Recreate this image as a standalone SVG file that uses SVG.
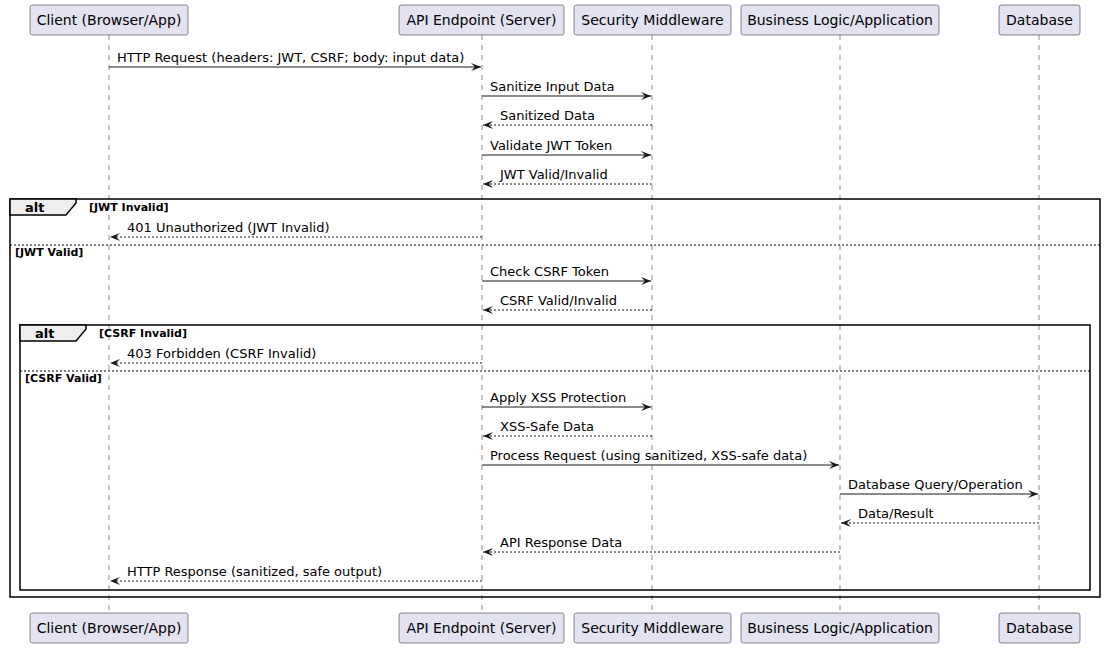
<svg xmlns="http://www.w3.org/2000/svg" width="1107" height="649" viewBox="0 0 1107 649">
<style>
.pbox{fill:#E2E2F0;stroke:#181818;stroke-width:0.5}
.ptxt{font-family:"DejaVu Sans",sans-serif;font-size:14px;fill:#000;text-anchor:middle}
.life{stroke:#181818;stroke-width:0.5;stroke-dasharray:5,5;fill:none}
.msg{stroke:#181818;stroke-width:1;fill:none}
.ret{stroke:#181818;stroke-width:1;fill:none;stroke-dasharray:2,2}
.mtxt{font-family:"DejaVu Sans",sans-serif;font-size:13px;fill:#000}
.frame{fill:none;stroke:#000;stroke-width:1.5}
.tab{fill:#EEEEEE;stroke:#000;stroke-width:1.5}
.alt{font-family:"DejaVu Sans",sans-serif;font-size:13px;font-weight:bold;fill:#000}
.guard{font-family:"DejaVu Sans",sans-serif;font-size:11px;font-weight:bold;fill:#000}
.sep{stroke:#000;stroke-width:1;stroke-dasharray:2,2}
</style>
<defs>
<marker id="ah" viewBox="0 0 10 8" refX="10" refY="4" markerWidth="10" markerHeight="8" markerUnits="userSpaceOnUse" orient="auto">
<polygon points="0,0 10,4 0,8 4,4" fill="#181818"/>
</marker>
</defs>
<g id="lifelines">
<line class="life" x1="109" y1="35" x2="109" y2="613"/>
<line class="life" x1="482" y1="35" x2="482" y2="613"/>
<line class="life" x1="652" y1="35" x2="652" y2="613"/>
<line class="life" x1="840" y1="35" x2="840" y2="613"/>
<line class="life" x1="1039" y1="35" x2="1039" y2="613"/>
</g>
<g id="frames">
<rect class="frame" x="10" y="199" width="1090" height="398"/>
<polygon class="tab" points="10,199 76,199 76,203 66,215 10,215"/>
<text class="alt" x="25" y="212">alt</text>
<text class="guard" x="89" y="211">[JWT Invalid]</text>
<line class="sep" x1="10" y1="245" x2="1100" y2="245"/>
<text class="guard" x="15" y="256">[JWT Valid]</text>
<rect class="frame" x="20" y="325" width="1070" height="265"/>
<polygon class="tab" points="20,325 86,325 86,329 76,341 20,341"/>
<text class="alt" x="35" y="338">alt</text>
<text class="guard" x="99" y="337">[CSRF Invalid]</text>
<line class="sep" x1="20" y1="371" x2="1090" y2="371"/>
<text class="guard" x="25" y="382">[CSRF Valid]</text>
</g>
<g id="participant-client">
<rect class="pbox" x="30" y="5" width="158" height="30" rx="2.5"/>
<text class="ptxt" x="109" y="25">Client (Browser/App)</text>
<rect class="pbox" x="30" y="613" width="158" height="30" rx="2.5"/>
<text class="ptxt" x="109" y="633">Client (Browser/App)</text>
</g>
<g id="participant-api">
<rect class="pbox" x="399" y="5" width="165" height="30" rx="2.5"/>
<text class="ptxt" x="481.5" y="25">API Endpoint (Server)</text>
<rect class="pbox" x="399" y="613" width="165" height="30" rx="2.5"/>
<text class="ptxt" x="481.5" y="633">API Endpoint (Server)</text>
</g>
<g id="participant-security">
<rect class="pbox" x="574" y="5" width="157" height="30" rx="2.5"/>
<text class="ptxt" x="652.5" y="25">Security Middleware</text>
<rect class="pbox" x="574" y="613" width="157" height="30" rx="2.5"/>
<text class="ptxt" x="652.5" y="633">Security Middleware</text>
</g>
<g id="participant-business">
<rect class="pbox" x="741" y="5" width="198" height="30" rx="2.5"/>
<text class="ptxt" x="840" y="25">Business Logic/Application</text>
<rect class="pbox" x="741" y="613" width="198" height="30" rx="2.5"/>
<text class="ptxt" x="840" y="633">Business Logic/Application</text>
</g>
<g id="participant-database">
<rect class="pbox" x="999" y="5" width="81" height="30" rx="2.5"/>
<text class="ptxt" x="1039.5" y="25">Database</text>
<rect class="pbox" x="999" y="613" width="81" height="30" rx="2.5"/>
<text class="ptxt" x="1039.5" y="633">Database</text>
</g>
<g id="connectors">
<line class="msg" x1="109" y1="67" x2="481" y2="67" marker-end="url(#ah)"/>
<text class="mtxt" x="117" y="62">HTTP Request (headers: JWT, CSRF; body: input data)</text>
<line class="msg" x1="482" y1="96" x2="651" y2="96" marker-end="url(#ah)"/>
<text class="mtxt" x="490" y="91">Sanitize Input Data</text>
<line class="ret" x1="652" y1="125" x2="483" y2="125" marker-end="url(#ah)"/>
<text class="mtxt" x="500" y="120">Sanitized Data</text>
<line class="msg" x1="482" y1="155" x2="651" y2="155" marker-end="url(#ah)"/>
<text class="mtxt" x="490" y="150">Validate JWT Token</text>
<line class="ret" x1="652" y1="184" x2="483" y2="184" marker-end="url(#ah)"/>
<text class="mtxt" x="500" y="179">JWT Valid/Invalid</text>
<line class="ret" x1="482" y1="237" x2="110" y2="237" marker-end="url(#ah)"/>
<text class="mtxt" x="127" y="232">401 Unauthorized (JWT Invalid)</text>
<line class="msg" x1="482" y1="281" x2="651" y2="281" marker-end="url(#ah)"/>
<text class="mtxt" x="490" y="276">Check CSRF Token</text>
<line class="ret" x1="652" y1="310" x2="483" y2="310" marker-end="url(#ah)"/>
<text class="mtxt" x="500" y="305">CSRF Valid/Invalid</text>
<line class="ret" x1="482" y1="363" x2="110" y2="363" marker-end="url(#ah)"/>
<text class="mtxt" x="127" y="358">403 Forbidden (CSRF Invalid)</text>
<line class="msg" x1="482" y1="407" x2="651" y2="407" marker-end="url(#ah)"/>
<text class="mtxt" x="490" y="402">Apply XSS Protection</text>
<line class="ret" x1="652" y1="436" x2="483" y2="436" marker-end="url(#ah)"/>
<text class="mtxt" x="500" y="431">XSS-Safe Data</text>
<line class="msg" x1="482" y1="465" x2="839" y2="465" marker-end="url(#ah)"/>
<text class="mtxt" x="490" y="460">Process Request (using sanitized, XSS-safe data)</text>
<line class="msg" x1="840" y1="494" x2="1038" y2="494" marker-end="url(#ah)"/>
<text class="mtxt" x="848" y="489">Database Query/Operation</text>
<line class="ret" x1="1039" y1="523" x2="841" y2="523" marker-end="url(#ah)"/>
<text class="mtxt" x="858" y="518">Data/Result</text>
<line class="ret" x1="840" y1="552" x2="483" y2="552" marker-end="url(#ah)"/>
<text class="mtxt" x="500" y="547">API Response Data</text>
<line class="ret" x1="482" y1="581" x2="110" y2="581" marker-end="url(#ah)"/>
<text class="mtxt" x="127" y="576">HTTP Response (sanitized, safe output)</text>
</g>
</svg>
